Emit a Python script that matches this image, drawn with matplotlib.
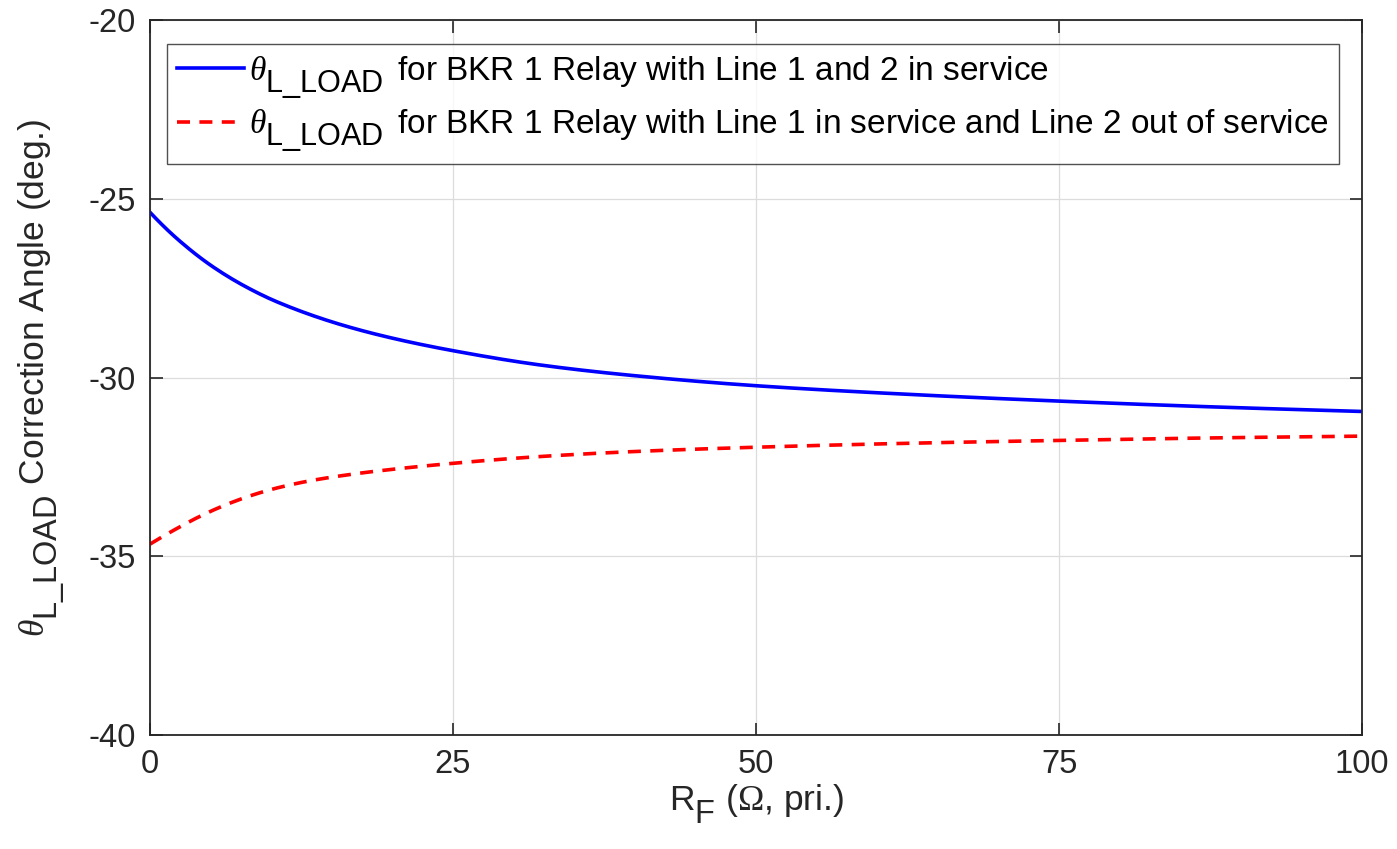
import matplotlib
matplotlib.use("Agg")
from matplotlib import pyplot as plt
import matplotlib._mathtext as mt
import numpy as np

# fault resistance (ohm, primary) and correction angle (deg)
rf_both = [0, 2.34, 5.09, 7.84, 10.59, 15.54, 20, 25, 32.2, 40, 50, 62.5, 75, 87.5, 100]
theta_both = [-25.38, -26.15, -26.88, -27.45, -27.90, -28.50, -28.90, -29.25,
              -29.65, -29.95, -30.23, -30.47, -30.66, -30.82, -30.95]

rf_single = [0, 2.34, 4.26, 6.33, 8.53, 10.59, 13.34, 15.54, 18.4, 25, 32.2, 40,
             50, 62.5, 75, 87.5, 100]
theta_single = [-34.66, -34.20, -33.86, -33.55, -33.28, -33.08, -32.88, -32.76,
                -32.63, -32.40, -32.21, -32.07, -31.95, -31.84, -31.76, -31.69, -31.64]

labels = [r"$\theta_{\mathsf{L\_LOAD}}\,$ for BKR 1 Relay with Line 1 and 2 in service",
          r"$\theta_{\mathsf{L\_LOAD}}\,$ for BKR 1 Relay with Line 1 in service and Line 2 out of service"]

xticks = [0, 25, 50, 75, 100]
yticks = [-40, -35, -30, -25, -20]

plt.rcParams["font.family"] = ["Liberation Sans", "DejaVu Sans"]
plt.rcParams["mathtext.fontset"] = "custom"
plt.rcParams["mathtext.it"] = "Liberation Serif:italic"
plt.rcParams["mathtext.rm"] = "Liberation Serif"
plt.rcParams["mathtext.sf"] = "Liberation Sans"
plt.rcParams["axes.unicode_minus"] = False

# bigger, lower subscripts like the original
mt.SHRINK_FACTOR = 0.92
mt.FontConstantsBase.sub1 = 0.8
mt.FontConstantsBase.sub2 = 0.9

def smooth(x, y, n=400):
    # pchip-like cubic through the read points
    x = np.asarray(x, float)
    y = np.asarray(y, float)
    h = np.diff(x)
    d = np.diff(y) / h
    m = np.zeros_like(y)
    for k in range(1, len(x) - 1):
        if d[k - 1] * d[k] > 0:
            w1 = 2 * h[k] + h[k - 1]
            w2 = h[k] + 2 * h[k - 1]
            m[k] = (w1 + w2) / (w1 / d[k - 1] + w2 / d[k])
    m[0] = d[0] + (d[0] - d[1]) * 0.5
    m[-1] = d[-1]
    xs = np.linspace(x[0], x[-1], n)
    idx = np.clip(np.searchsorted(x, xs) - 1, 0, len(x) - 2)
    t = (xs - x[idx]) / h[idx]
    h00 = 2 * t**3 - 3 * t**2 + 1
    h10 = t**3 - 2 * t**2 + t
    h01 = -2 * t**3 + 3 * t**2
    h11 = t**3 - t**2
    ys = h00 * y[idx] + h10 * h[idx] * m[idx] + h01 * y[idx + 1] + h11 * h[idx] * m[idx + 1]
    return xs, ys

fig = plt.figure(figsize=(13.97, 8.49), dpi=100)
ax = fig.add_axes([0.1074, 0.1343, 0.8676, 0.8421])

xb, yb = smooth(rf_both, theta_both)
xs, ys = smooth(rf_single, theta_single)
ax.plot(xb, yb, "-", color="#0000ff", lw=2.6, label=labels[0])
ax.plot(xs, ys, "--", color="#ff0000", lw=2.6, dashes=(3.6, 2.6), label=labels[1])

ax.set_xlim(0, 100)
ax.set_ylim(-40, -20)
ax.set_xticks(xticks)
ax.set_yticks(yticks)
ax.grid(True, color="#dcdcdc", lw=0.9)
ax.set_axisbelow(True)
ax.tick_params(direction="in", length=9, width=1.2, labelsize=23.5, colors="#262626",
               top=True, right=True, pad=10)
for s in ax.spines.values():
    s.set_color("#262626")
    s.set_linewidth(1.3)

ax.set_xlabel(r"R$_{\mathsf{F}}$ ($\Omega$, pri.)", fontsize=25.5, color="#262626", labelpad=2)
ax.set_ylabel(r"$\theta_{\mathsf{L\_LOAD}}$ Correction Angle (deg.)", fontsize=25.5,
              color="#262626")
ax.yaxis.set_label_coords(-0.068, 0.5)

leg = ax.legend(loc="upper left", bbox_to_anchor=(0.014, 0.966), fontsize=24,
                frameon=True, fancybox=False, handlelength=2.0, handletextpad=0.15,
                borderpad=0.3, labelspacing=0.22, borderaxespad=0)
leg.get_frame().set_edgecolor("#262626")
leg.get_frame().set_linewidth(1.0)

plt.savefig("out.png", dpi=100)
plt.close()
